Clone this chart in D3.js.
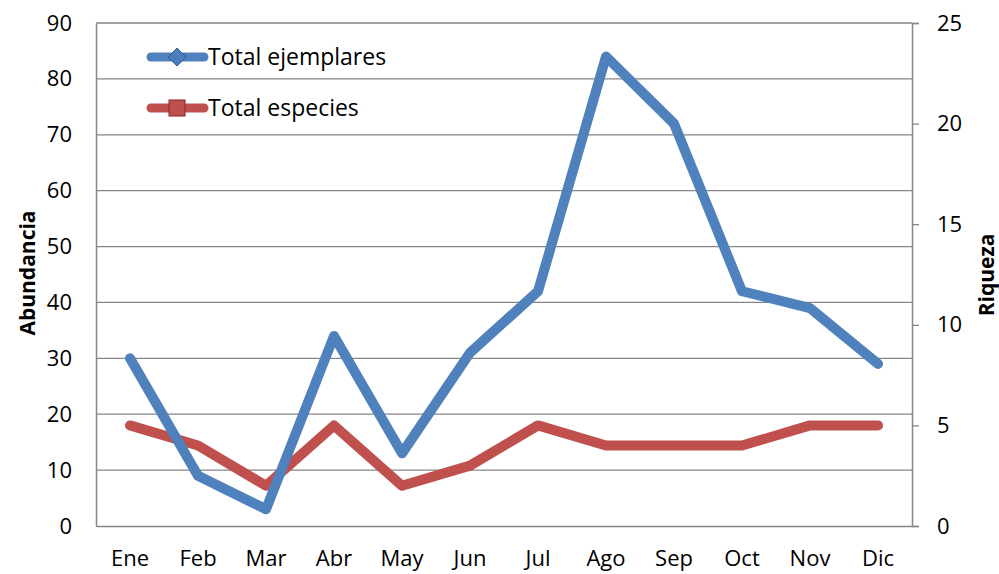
<!DOCTYPE html>
<html><head><meta charset="utf-8">
<script src="https://cdn.jsdelivr.net/npm/d3@7"></script>
<style>body{margin:0;background:#fff}svg{display:block}text{font-family:"Open Sans","Liberation Sans",sans-serif;fill:#000}</style>
</head><body><svg id="c" width="999" height="574"></svg>
<script>
const months = ["Ene","Feb","Mar","Abr","May","Jun","Jul","Ago","Sep","Oct","Nov","Dic"];
const totalEjemplares = [30,9,3,34,13,31,42,84,72,42,39,29];
const totalEspecies = [5,4,2,5,2,3,5,4,4,4,5,5];
const leftTicks = [0,10,20,30,40,50,60,70,80,90];
const rightTicks = [0,5,10,15,20,25];

const FONT = '"Open Sans","Liberation Sans",sans-serif';
const svg = d3.select("#c");
const L = 96, R = 912, T = 23, B = 526;
const x = d3.scaleBand().domain(months).range([L, R]);
const yL = d3.scaleLinear().domain([0, 90]).range([B, T]);
const yR = d3.scaleLinear().domain([0, 25]).range([B, T]);
const grey = "#868686";

// gridlines
svg.append("g").selectAll("line").data(leftTicks.filter(d=>d>0)).join("line")
  .attr("x1", L).attr("x2", R).attr("y1", d=>yL(d)).attr("y2", d=>yL(d))
  .attr("stroke", grey).attr("stroke-width", 1.3);

// left axis
const gl = svg.append("g").attr("transform", `translate(${L},0)`)
  .call(d3.axisLeft(yL).tickValues(leftTicks).tickSize(0).tickPadding(24));
gl.select(".domain").attr("stroke", grey).attr("stroke-width", 1.5);
gl.selectAll("text").attr("font-size", 22).style("font-family", FONT);

// right axis
const gr = svg.append("g").attr("transform", `translate(${R},0)`)
  .call(d3.axisRight(yR).tickValues(rightTicks).tickSize(7).tickPadding(18));
gr.select(".domain").attr("stroke", grey).attr("stroke-width", 1.5);
gr.selectAll(".tick line").attr("stroke", grey).attr("stroke-width", 1.3);
gr.selectAll("text").attr("font-size", 22).style("font-family", FONT);

// bottom axis
const gb = svg.append("g").attr("transform", `translate(0,${B})`)
  .call(d3.axisBottom(x).tickSize(0).tickPadding(24));
gb.select(".domain").attr("stroke", grey).attr("stroke-width", 1.5);
gb.selectAll("text").attr("font-size", 22).style("font-family", FONT);

// axis titles
svg.append("text").attr("transform", `translate(35,273) rotate(-90)`)
  .attr("text-anchor","middle").attr("font-size",21).attr("font-weight","bold").text("Abundancia");
svg.append("text").attr("transform", `translate(994,275) rotate(-90)`)
  .attr("text-anchor","middle").attr("font-size",21).attr("font-weight","bold").text("Riqueza");

// lines
const cx = d => x(d) + x.bandwidth()/2;
const lineL = d3.line().x((d,i)=>cx(months[i])).y(d=>yL(d));
const lineR = d3.line().x((d,i)=>cx(months[i])).y(d=>yR(d));
svg.append("path").attr("d", lineR(totalEspecies)).attr("fill","none")
  .attr("stroke","#C0504D").attr("stroke-width",10).attr("stroke-linejoin","round").attr("stroke-linecap","round");
svg.append("path").attr("d", lineL(totalEjemplares)).attr("fill","none")
  .attr("stroke","#4F81BD").attr("stroke-width",10).attr("stroke-linejoin","round").attr("stroke-linecap","round");

// legend
const leg = [
  {name:"Total ejemplares", color:"#4F81BD", y:57, shape:"diamond"},
  {name:"Total especies", color:"#C0504D", y:108, shape:"square"}
];
leg.forEach(l => {
  const g = svg.append("g");
  g.append("line").attr("x1",151).attr("x2",204).attr("y1",l.y).attr("y2",l.y)
    .attr("stroke",l.color).attr("stroke-width",9).attr("stroke-linecap","round");
  if (l.shape === "diamond") {
    g.append("path").attr("d", `M177,${l.y-9}L186,${l.y}L177,${l.y+9}L168,${l.y}Z`)
      .attr("fill","#4A7EBB").attr("stroke","#2C5D8F").attr("stroke-width",1);
  } else {
    g.append("rect").attr("x",169).attr("y",l.y-8).attr("width",16).attr("height",16)
      .attr("fill","#C0504D").attr("stroke","#7F2A28").attr("stroke-width",1);
  }
  g.append("text").attr("x",208).attr("y",l.y+8).attr("font-size",23).style("font-family", FONT).text(l.name);
});
</script></body></html>
